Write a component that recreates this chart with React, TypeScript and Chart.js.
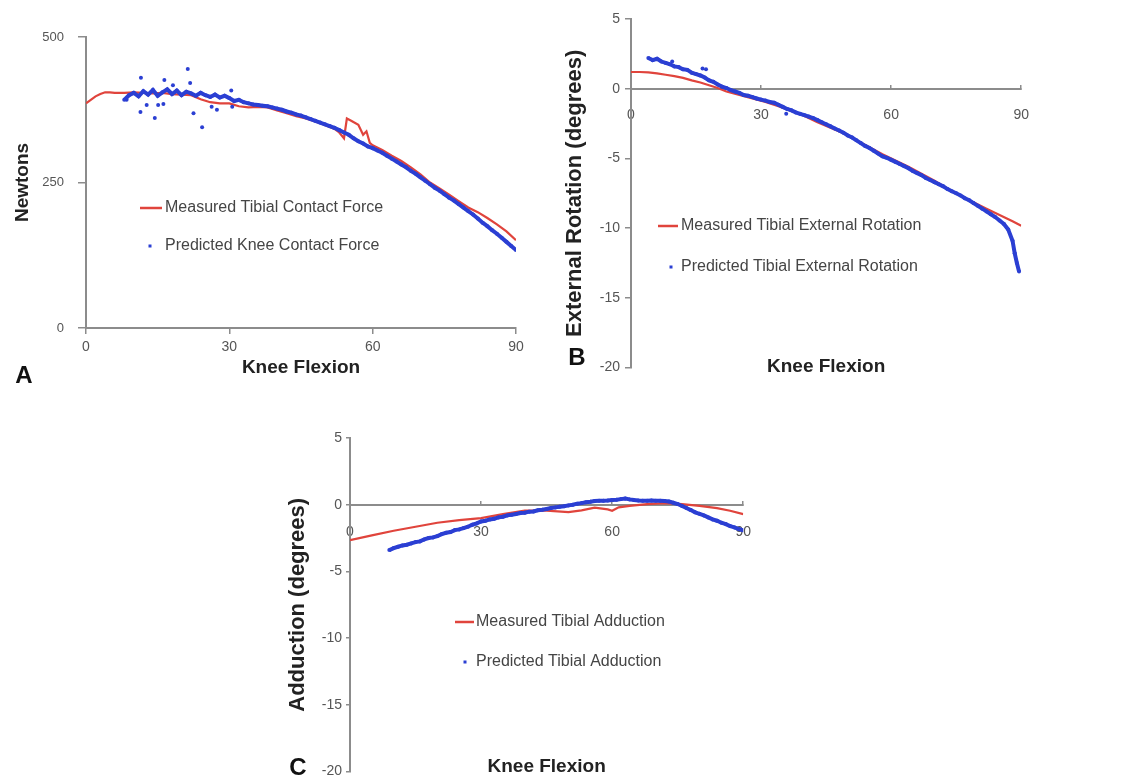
import React, { useEffect, useRef } from 'react';
import { Chart, registerables } from 'chart.js';
Chart.register(...registerables);

const FONT = '"Liberation Sans", Arial, sans-serif';
const RED = '#e0443c';
const BLUE = '#2b3fd3';
const AXIS = '#8c8c8c';

// ---------- shared ----------
const xTickValues = [0, 30, 60, 90];
const degTickValues = [5, 0, -5, -10, -15, -20];
const forceTickValues = [0, 250, 500];
const xTitle = 'Knee Flexion';

// ---------- Panel A : contact force ----------
const aMeasuredX = [0, 1, 2, 3, 4, 5, 6, 8, 10, 12, 14, 16, 18, 20, 22, 24, 26, 28, 30, 32, 34, 36, 38, 40, 42, 44, 46, 48, 50, 52, 53, 54, 54.6, 55.5, 57, 58, 58.7, 59.4, 60, 62, 64, 66, 68, 70, 72, 74, 76, 78, 80, 82, 84, 86, 88, 90];
const aMeasuredY = [386, 392, 398, 402, 405, 405, 404, 404, 405, 404, 403, 404, 402, 401, 400, 393, 388, 386, 386, 381, 379, 380, 379, 374, 369, 364, 360, 355, 349, 342, 336, 326, 360, 356, 349, 332, 338, 318, 314, 306, 296, 287, 276, 264, 250, 240, 229, 218, 207, 199, 189, 178, 166, 151];
const aPredictedX = [8, 9, 10, 11, 12, 13, 14, 15, 16, 17, 18, 19, 20, 21, 22, 23, 24, 25, 26, 27, 28, 29, 30, 31, 32, 33, 34, 35, 36, 37, 38, 39, 40, 41, 42, 43, 44, 45, 46, 47, 48, 49, 50, 51, 52, 53, 54, 55, 56, 57, 58, 59, 60, 61, 62, 63, 64, 65, 66, 67, 68, 69, 70, 71, 72, 73, 74, 75, 76, 77, 78, 79, 80, 81, 82, 83, 84, 85, 86, 87, 88, 89, 90];
const aPredictedY = [392, 400, 404, 398, 407, 401, 409, 399, 405, 410, 402, 408, 400, 406, 403, 399, 404, 400, 397, 401, 396, 399, 395, 390, 392, 388, 386, 384, 383, 382, 381, 379, 377, 375, 372, 370, 367, 365, 362, 359, 356, 353, 350, 347, 344, 340, 336, 332, 326, 321, 317, 312, 309, 305, 301, 296, 291, 286, 281, 276, 270, 265, 259, 253, 247, 241, 236, 230, 224, 219, 213, 207, 201, 195, 188, 181, 175, 168, 162, 155, 148, 141, 134];
const aScatterX = [8.5, 11.5, 11.4, 12.7, 14.4, 15.1, 16.2, 16.4, 18.2, 21.3, 21.8, 22.5, 24.3, 26.3, 27.4, 30.4, 30.6];
const aScatterY = [392, 430, 371, 383, 361, 383, 385, 426, 417, 445, 421, 369, 345, 380, 375, 408, 380];

// ---------- Panel B : external rotation ----------
const bMeasuredX = [0, 2, 4, 6, 8, 10, 12, 14, 16, 18, 20, 22, 25, 28, 31, 34, 37, 40, 43, 46, 49, 52, 55, 58, 61, 64, 67, 70, 73, 76, 79, 82, 85, 88, 90];
const bMeasuredY = [1.2, 1.2, 1.17, 1.1, 1.0, 0.9, 0.78, 0.6, 0.45, 0.25, 0.05, -0.2, -0.45, -0.7, -0.95, -1.25, -1.6, -1.95, -2.4, -2.8, -3.2, -3.7, -4.2, -4.7, -5.15, -5.6, -6.1, -6.6, -7.15, -7.65, -8.15, -8.6, -9.05, -9.5, -9.83];
const bPredictedX = [4, 5, 6, 7, 8, 9, 10, 11, 12, 13, 14, 15, 16, 17, 18, 19, 20, 21, 22, 23, 24, 25, 26, 27, 28, 29, 30, 31, 32, 33, 34, 35, 36, 37, 38, 39, 40, 41, 42, 43, 44, 45, 46, 47, 48, 49, 50, 51, 52, 53, 54, 55, 56, 57, 58, 59, 60, 61, 62, 63, 64, 65, 66, 67, 68, 69, 70, 71, 72, 73, 74, 75, 76, 77, 78, 79, 80, 81, 82, 83, 84, 85, 86, 87, 88, 88.5, 89, 89.5];
const bPredictedY = [2.2, 2.05, 2.15, 1.95, 1.85, 1.75, 1.6, 1.55, 1.4, 1.35, 1.15, 1.05, 0.95, 0.8, 0.6, 0.5, 0.3, 0.15, 0.05, -0.1, -0.2, -0.3, -0.45, -0.5, -0.6, -0.7, -0.78, -0.85, -0.95, -1.0, -1.15, -1.3, -1.45, -1.55, -1.7, -1.8, -1.9, -2.0, -2.1, -2.25, -2.4, -2.55, -2.7, -2.85, -3.0, -3.15, -3.35, -3.5, -3.7, -3.9, -4.1, -4.25, -4.45, -4.65, -4.85, -4.95, -5.1, -5.25, -5.4, -5.55, -5.7, -5.9, -6.05, -6.2, -6.4, -6.55, -6.7, -6.85, -7.0, -7.2, -7.35, -7.5, -7.65, -7.85, -8.0, -8.2, -8.4, -8.6, -8.8, -9.0, -9.2, -9.45, -9.7, -10.1, -10.9, -11.8, -12.5, -13.1];
const bScatterX = [16.5, 17.3, 35.8, 9.5];
const bScatterY = [1.45, 1.4, -1.8, 1.95];

// ---------- Panel C : adduction ----------
const cMeasuredX = [0, 5, 10, 15, 20, 25, 30, 35, 40, 45, 50, 53, 56, 59, 60, 61.5, 64, 68, 72, 76, 80, 84, 87, 90];
const cMeasuredY = [-2.66, -2.3, -1.95, -1.65, -1.35, -1.15, -1.0, -0.7, -0.45, -0.45, -0.55, -0.42, -0.22, -0.35, -0.45, -0.2, -0.08, 0.05, 0.12, 0.05, -0.08, -0.25, -0.45, -0.7];
const cPredictedX = [9, 10, 11, 12, 13, 14, 15, 16, 17, 18, 19, 20, 21, 22, 23, 24, 25, 26, 27, 28, 29, 30, 31, 32, 33, 34, 35, 36, 37, 38, 39, 40, 41, 42, 43, 44, 45, 46, 47, 48, 49, 50, 51, 52, 53, 54, 55, 56, 57, 58, 59, 60, 61, 62, 63, 64, 65, 66, 67, 68, 69, 70, 71, 72, 73, 74, 75, 76, 77, 78, 79, 80, 81, 82, 83, 84, 85, 86, 87, 88, 89, 90];
const cPredictedY = [-3.4, -3.25, -3.15, -3.05, -3.0, -2.9, -2.8, -2.75, -2.6, -2.5, -2.45, -2.35, -2.2, -2.1, -2.05, -1.9, -1.85, -1.75, -1.65, -1.5, -1.4, -1.25, -1.2, -1.1, -1.05, -0.95, -0.9, -0.8, -0.75, -0.7, -0.62, -0.6, -0.52, -0.5, -0.42, -0.38, -0.32, -0.25, -0.2, -0.15, -0.12, -0.05, 0.0, 0.08, 0.12, 0.18, 0.22, 0.28, 0.3, 0.3, 0.32, 0.35, 0.38, 0.42, 0.47, 0.4, 0.35, 0.32, 0.3, 0.3, 0.32, 0.3, 0.3, 0.28, 0.25, 0.15, 0.05, -0.1, -0.25, -0.4, -0.57, -0.68, -0.8, -0.95, -1.1, -1.2, -1.35, -1.45, -1.6, -1.7, -1.82, -1.92];

const pts = (xs: number[], ys: number[]) => xs.map((x, i) => ({ x, y: ys[i] }));

const annotate = {
  id: 'annotate',
  afterDraw(chart: any, _args: any, o: any) {
    const { ctx, chartArea: ca } = chart;
    const ds = chart.data.datasets;
    const measured = ds.find((d: any) => d.role === 'measured');
    const predicted = ds.find((d: any) => d.role === 'predicted');
    ctx.save();
    ctx.strokeStyle = RED;
    ctx.lineWidth = 2.5;
    ctx.beginPath();
    ctx.moveTo(ca.left + o.lineX0, ca.top + o.y1);
    ctx.lineTo(ca.left + o.lineX1, ca.top + o.y1);
    ctx.stroke();
    ctx.fillStyle = BLUE;
    ctx.fillRect(ca.left + o.dotX - 1.5, ca.top + o.y2 - 1.5, 3, 3);
    ctx.fillStyle = '#454545';
    ctx.font = `16px ${FONT}`;
    ctx.textBaseline = 'middle';
    ctx.textAlign = 'left';
    ctx.fillText(measured.label, ca.left + o.textX, ca.top + o.y1);
    ctx.fillText(predicted.label, ca.left + o.textX, ca.top + o.y2);
    ctx.font = `bold 24px ${FONT}`;
    ctx.fillStyle = '#111';
    ctx.textAlign = 'center';
    ctx.fillText(o.letter, ca.left + o.letterX, ca.top + o.letterY);
    ctx.restore();
  },
};

type PanelCfg = {
  left: number; top: number; w: number; h: number;
  pad: { top: number; right: number; bottom: number; left: number };
  yMin: number; yMax: number; yTicks: number[]; yTitle: string; yTitleSize: number;
  yAxisW: number; yTickLen: number; yTickPad: number; yTickSize: number;
  xAtZero: boolean; xTickLen: number; xTickPad: number; xAxisH: number; xTitleH: number;
  measuredLabel: string; predictedLabel: string;
  mx: number[]; my: number[]; px: number[]; py: number[]; sx: number[]; sy: number[];
  legend: any;
};

function buildConfig(p: PanelCfg): any {
  const tickFont = { family: FONT, size: 14 };
  const titleFont = { family: FONT, size: 19, weight: 'bold' as const };
  const scales: any = {
    x: {
      type: 'linear', min: 0, max: 90,
      position: p.xAtZero ? { y: 0 } : 'bottom',
      afterBuildTicks: (s: any) => { s.ticks = xTickValues.map((value) => ({ value })); },
      ticks: { color: '#555', font: tickFont, padding: p.xTickPad, maxRotation: 0, autoSkip: false },
      grid: { drawOnChartArea: false, drawTicks: true, tickLength: p.xTickLen, color: AXIS, lineWidth: 1.5 },
      border: { color: AXIS, width: 2 },
      title: p.xAtZero ? { display: false } : { display: true, text: xTitle, font: titleFont, color: '#222', padding: 0 },
      afterFit: (s: any) => { s.height = p.xAxisH; },
    },
    y: {
      type: 'linear', min: p.yMin, max: p.yMax, position: 'left',
      afterBuildTicks: (s: any) => { s.ticks = p.yTicks.map((value) => ({ value })); },
      ticks: { color: '#555', font: { family: FONT, size: p.yTickSize }, padding: p.yTickPad, autoSkip: false },
      grid: { drawOnChartArea: false, drawTicks: true, tickLength: p.yTickLen, color: AXIS, lineWidth: 1.5 },
      border: { color: AXIS, width: 2 },
      title: { display: true, text: p.yTitle, font: { family: FONT, size: p.yTitleSize, weight: 'bold' }, color: '#222', padding: 0 },
      afterFit: (s: any) => { s.width = p.yAxisW; },
    },
  };
  if (p.xAtZero) {
    scales.x2 = {
      axis: 'x', type: 'linear', min: 0, max: 90, position: { y: p.yMin },
      grid: { display: false }, border: { display: false }, ticks: { display: false },
      title: { display: true, text: xTitle, font: titleFont, color: '#222', padding: 0 },
      afterFit: (s: any) => { s.height = p.xTitleH; },
    };
  }
  return {
    type: 'scatter',
    data: {
      datasets: [
        {
          role: 'predicted', label: p.predictedLabel, data: pts(p.px, p.py), showLine: true,
          borderColor: BLUE, backgroundColor: BLUE, borderWidth: 4, pointRadius: 2, pointBorderWidth: 0,
        },
        {
          role: 'predictedScatter', label: p.predictedLabel, data: pts(p.sx, p.sy), showLine: false,
          borderColor: BLUE, backgroundColor: BLUE, pointRadius: 2, pointBorderWidth: 0,
        },
        {
          role: 'measured', label: p.measuredLabel, data: pts(p.mx, p.my), showLine: true,
          borderColor: RED, backgroundColor: RED, borderWidth: 2.2, pointRadius: 0,
        },
      ],
    },
    options: {
      responsive: false, animation: false, devicePixelRatio: 1, events: [],
      layout: { padding: p.pad },
      scales,
      plugins: { legend: { display: false }, tooltip: { enabled: false }, annotate: p.legend },
    },
    plugins: [annotate],
  };
}

const panelA: PanelCfg = {
  left: 11, top: 0, w: 530, h: 395,
  pad: { top: 37, right: 25, bottom: 16, left: 0 },
  yMin: 0, yMax: 500, yTicks: forceTickValues, yTitle: 'Newtons', yTitleSize: 19,
  yAxisW: 75, yTickLen: 8, yTickPad: 14, yTickSize: 13,
  xAtZero: false, xTickLen: 6, xTickPad: 5, xAxisH: 51, xTitleH: 0,
  measuredLabel: 'Measured Tibial Contact Force', predictedLabel: 'Predicted Knee Contact Force',
  mx: aMeasuredX, my: aMeasuredY, px: aPredictedX, py: aPredictedY, sx: aScatterX, sy: aScatterY,
  legend: { lineX0: 54, lineX1: 76, y1: 171, dotX: 64, y2: 209, textX: 79, letter: 'A', letterX: -62, letterY: 339 },
};

const panelB: PanelCfg = {
  left: 562, top: 0, w: 490, h: 381,
  pad: { top: 19, right: 23, bottom: 10, left: 0 },
  yMin: -20, yMax: 5, yTicks: degTickValues, yTitle: 'External Rotation (degrees)', yTitleSize: 22,
  yAxisW: 69, yTickLen: 6, yTickPad: 5, yTickSize: 14,
  xAtZero: true, xTickLen: -5, xTickPad: 23, xAxisH: 0, xTitleH: 11,
  measuredLabel: 'Measured Tibial External Rotation', predictedLabel: 'Predicted Tibial External Rotation',
  mx: bMeasuredX, my: bMeasuredY, px: bPredictedX, py: bPredictedY, sx: bScatterX, sy: bScatterY,
  legend: { lineX0: 27, lineX1: 47, y1: 207, dotX: 40, y2: 248, textX: 50, letter: 'B', letterX: -54, letterY: 339 },
};

const panelC: PanelCfg = {
  left: 285, top: 418, w: 490, h: 366,
  pad: { top: 20, right: 22, bottom: 5, left: 0 },
  yMin: -20, yMax: 5, yTicks: degTickValues, yTitle: 'Adduction (degrees)', yTitleSize: 22,
  yAxisW: 65, yTickLen: 4, yTickPad: 4, yTickSize: 14,
  xAtZero: true, xTickLen: -5, xTickPad: 24, xAxisH: 0, xTitleH: 7,
  measuredLabel: 'Measured Tibial Adduction', predictedLabel: 'Predicted Tibial Adduction',
  mx: cMeasuredX, my: cMeasuredY, px: cPredictedX, py: cPredictedY, sx: [], sy: [],
  legend: { lineX0: 105, lineX1: 124, y1: 184, dotX: 115, y2: 224, textX: 126, letter: 'C', letterX: -52, letterY: 330 },
};

function Panel({ cfg }: { cfg: PanelCfg }) {
  const ref = useRef<HTMLCanvasElement>(null);
  useEffect(() => {
    const chart = new Chart(ref.current as HTMLCanvasElement, buildConfig(cfg));
    return () => chart.destroy();
  }, [cfg]);
  return (
    <canvas
      ref={ref}
      width={cfg.w}
      height={cfg.h}
      style={{ position: 'absolute', left: cfg.left, top: cfg.top, width: cfg.w, height: cfg.h }}
    />
  );
}

export default function App() {
  return (
    <div style={{ position: 'absolute', left: 0, top: 0, width: 1145, height: 781, overflow: 'hidden', background: '#fff' }}>
      <Panel cfg={panelA} />
      <Panel cfg={panelB} />
      <Panel cfg={panelC} />
    </div>
  );
}
